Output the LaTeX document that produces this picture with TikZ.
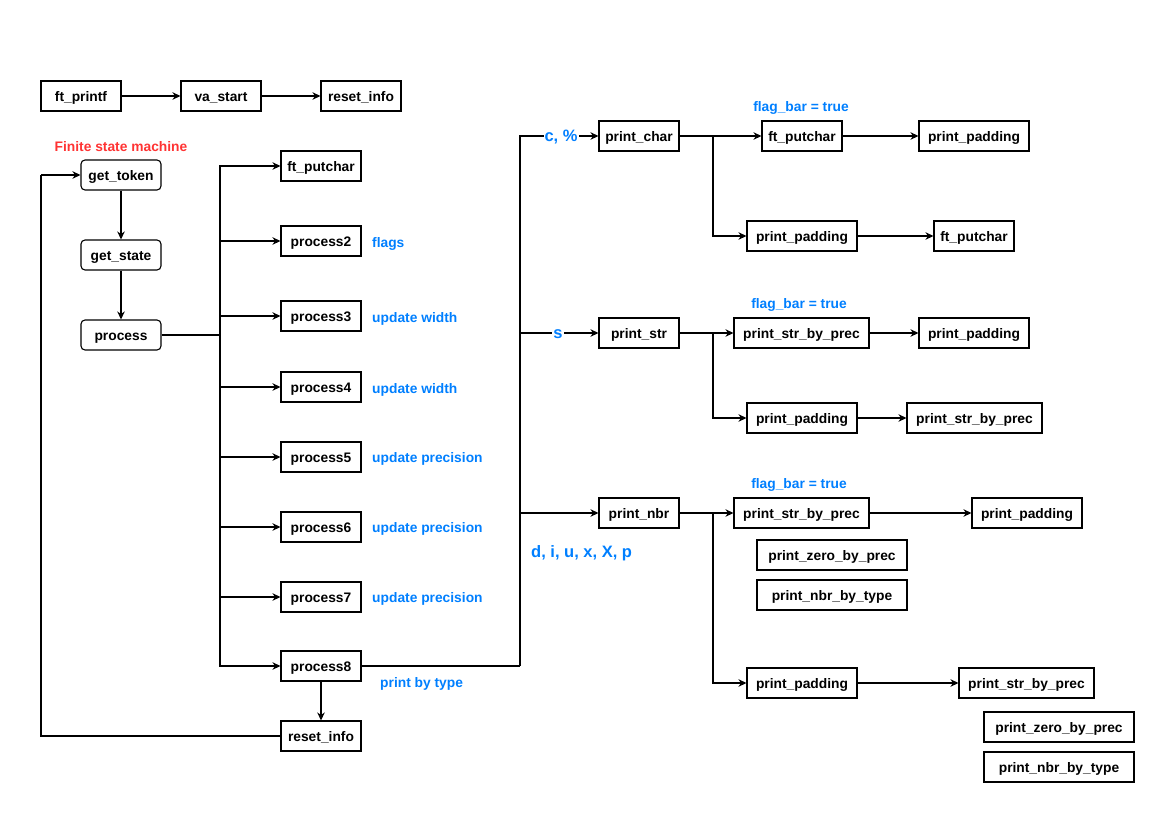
\documentclass[tikz,border=0pt]{standalone}
\usepackage{fontspec}
\setmainfont{Liberation Sans}
\usetikzlibrary{arrows.meta}
\definecolor{fsmred}{HTML}{FF3333}
\definecolor{notebl}{HTML}{007FFF}
\begin{document}
\begin{tikzpicture}[x=1pt,y=-1pt,
  box/.style={draw,line width=1.1pt,minimum height=30pt,inner sep=0pt,
    text height=11pt,text depth=0pt,
    font=\fontsize{13.8}{16}\selectfont\bfseries},
  rbox/.style={box,rounded corners=4pt},
  w80/.style={minimum width=80pt},
  w110/.style={minimum width=110pt},
  w135/.style={minimum width=135pt},
  w150/.style={minimum width=150pt},
  wire/.style={line width=1.1pt},
  arr/.style={wire,-{Stealth[length=8pt,width=7.5pt,inset=2.5pt]}},
  note/.style={text=notebl,font=\fontsize{13.8}{16}\selectfont\bfseries,inner sep=0pt,
    text height=11pt,text depth=0pt},
  bignote/.style={text=notebl,font=\fontsize{16.5}{19}\selectfont\bfseries,inner sep=0pt,
    text height=13pt,text depth=0pt},
]
\useasboundingbox (0,0) rectangle (1169,827);

% entry sequence
\node[box,w80] (printf) at (81,96) {ft\_printf};
\node[box,w80] (vastart) at (221,96) {va\_start};
\node[box,w80] (resetT) at (361,96) {reset\_info};
\draw[arr] (printf) -- (vastart);
\draw[arr] (vastart) -- (resetT);

% state machine loop
\node[text=fsmred,font=\fontsize{13.8}{16}\selectfont\bfseries,inner sep=0pt,
  text height=11pt,text depth=0pt] (fsm) at (121,146) {Finite state machine};
\node[rbox,w80] (gettoken) at (121,175) {get\_token};
\node[rbox,w80] (getstate) at (121,255) {get\_state};
\node[rbox,w80] (process) at (121,335) {process};
\draw[arr] (gettoken) -- (getstate);
\draw[arr] (getstate) -- (process);

% dispatch targets
\node[box,w80] (putL) at (321,166) {ft\_putchar};
\node[box,w80] (p2) at (321,241) {process2};
\node[box,w80] (p3) at (321,316) {process3};
\node[box,w80] (p4) at (321,387) {process4};
\node[box,w80] (p5) at (321,457) {process5};
\node[box,w80] (p6) at (321,527) {process6};
\node[box,w80] (p7) at (321,597) {process7};
\node[box,w80] (p8) at (321,666) {process8};
\node[box,w80] (resetB) at (321,736) {reset\_info};

\node[note,anchor=west] (n2) at (372,242) {flags};
\node[note,anchor=west] (n3) at (372,317) {update width};
\node[note,anchor=west] (n4) at (372,388) {update width};
\node[note,anchor=west] (n5) at (372,457) {update precision};
\node[note,anchor=west] (n6) at (372,527) {update precision};
\node[note,anchor=west] (n7) at (372,597) {update precision};
\node[note,anchor=west] (n8) at (380,682) {print by type};

\coordinate (sL) at (220,335);
\draw[wire] (process) -- (sL);
\foreach \t in {putL,p2,p3,p4,p5,p6,p7,p8}
  \draw[arr] (sL) |- (\t);
\draw[arr] (p8) -- (resetB);
\coordinate (loop) at (41,175);
\draw[wire] (resetB.west) -| (loop);
\draw[arr] (loop) -- (gettoken);

% print by type
\node[box,w80] (printchar) at (639,136) {print\_char};
\node[box,w80] (printstr) at (639,333) {print\_str};
\node[box,w80] (printnbr) at (639,513) {print\_nbr};

\coordinate (sR) at (520,666);
\draw[wire] (p8) -- (sR);
\draw[arr] (sR) |- (printchar);
\draw[arr] (sR) |- (printstr);
\draw[arr] (sR) |- (printnbr);
\node[bignote,fill=white,inner xsep=1pt] (lc) at (561,135) {c, \%};
\node[bignote,fill=white,inner xsep=1pt] (ls) at (558,332) {s};
\node[bignote,anchor=west] (ld) at (531,551) {d, i, u, x, X, p};

% char branch
\node[note] (fc) at (801,106) {flag\_bar = true};
\node[box,w80] (putC1) at (802,136) {ft\_putchar};
\node[box,w110] (padC1) at (974,136) {print\_padding};
\node[box,w110] (padC2) at (802,236) {print\_padding};
\node[box,w80] (putC2) at (974,236) {ft\_putchar};
\coordinate (bc) at (713,136);
\draw[arr] (printchar) -- (putC1);
\draw[arr] (bc) |- (padC2);
\draw[arr] (putC1) -- (padC1);
\draw[arr] (padC2) -- (putC2);

% string branch
\node[note] (fs) at (799,303) {flag\_bar = true};
\node[box,w135] (precS1) at (801.5,333) {print\_str\_by\_prec};
\node[box,w110] (padS1) at (974,333) {print\_padding};
\node[box,w110] (padS2) at (802,418) {print\_padding};
\node[box,w135] (precS2) at (974.5,418) {print\_str\_by\_prec};
\coordinate (bs) at (713,333);
\draw[arr] (printstr) -- (precS1);
\draw[arr] (bs) |- (padS2);
\draw[arr] (precS1) -- (padS1);
\draw[arr] (padS2) -- (precS2);

% number branch
\node[note] (fn) at (799,483) {flag\_bar = true};
\node[box,w135] (precN1) at (801.5,513) {print\_str\_by\_prec};
\node[box,w110] (padN1) at (1027,513) {print\_padding};
\node[box,w150] (zeroN1) at (832,555) {print\_zero\_by\_prec};
\node[box,w150] (typeN1) at (832,595) {print\_nbr\_by\_type};
\node[box,w110] (padN2) at (802,683) {print\_padding};
\node[box,w135] (precN2) at (1026.5,683) {print\_str\_by\_prec};
\node[box,w150] (zeroN2) at (1059,727) {print\_zero\_by\_prec};
\node[box,w150] (typeN2) at (1059,767) {print\_nbr\_by\_type};
\coordinate (bn) at (713,513);
\draw[arr] (printnbr) -- (precN1);
\draw[arr] (bn) |- (padN2);
\draw[arr] (precN1) -- (padN1);
\draw[arr] (padN2) -- (precN2);
\end{tikzpicture}
\end{document}
